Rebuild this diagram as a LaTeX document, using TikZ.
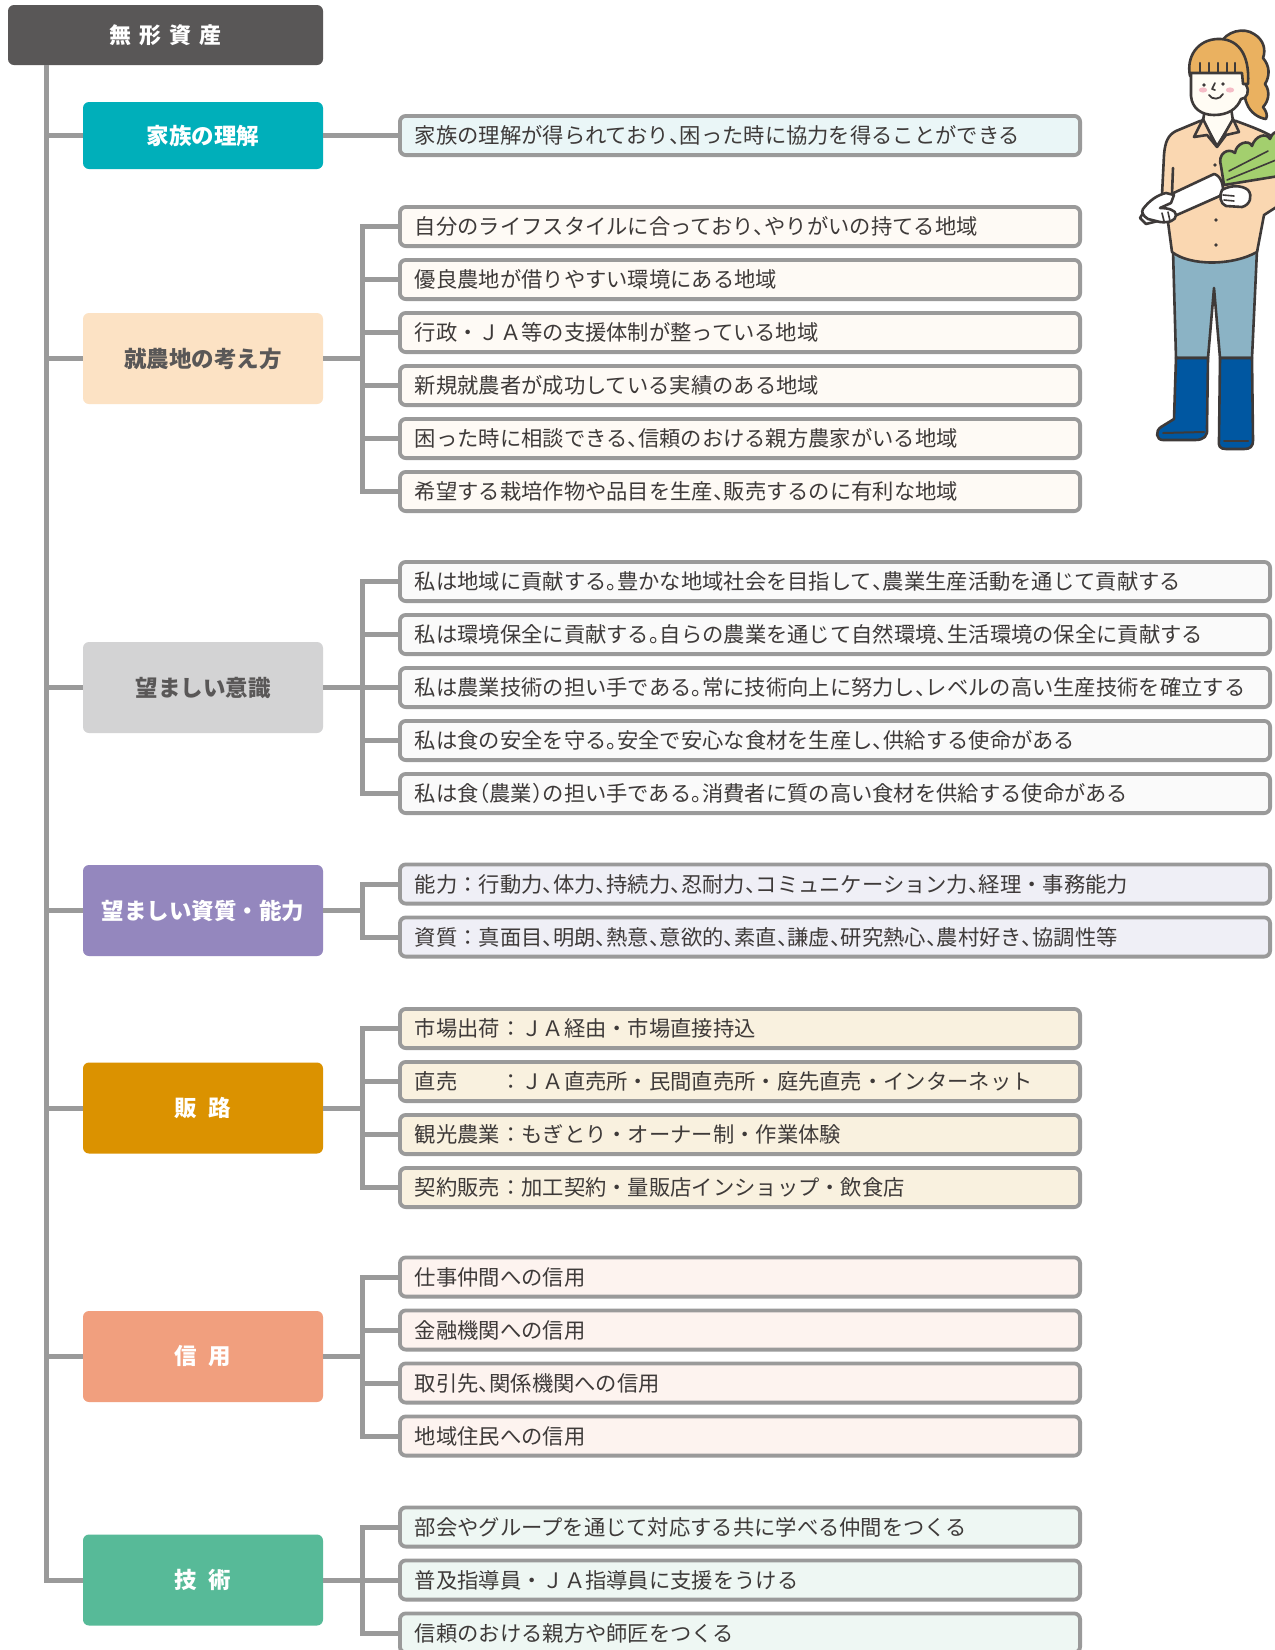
\documentclass[tikz,border=0pt]{standalone}
\usepackage{fontspec}
\setmainfont{Noto Sans CJK JP}
\definecolor{linegray}{HTML}{9A9A9A}
\definecolor{txt}{HTML}{3E3A39}
\definecolor{catgray}{HTML}{595757}
\definecolor{cRoot}{HTML}{595757}
\definecolor{cTeal}{HTML}{00AFBA}
\definecolor{cPeach}{HTML}{FCE2C4}
\definecolor{cGray}{HTML}{D3D3D4}
\definecolor{cPurple}{HTML}{9487BE}
\definecolor{cOrange}{HTML}{DB9200}
\definecolor{cSalmon}{HTML}{F19F7E}
\definecolor{cGreen}{HTML}{57BA98}
\definecolor{fTeal}{HTML}{EAF6F7}
\definecolor{fPeach}{HTML}{FEFAF5}
\definecolor{fGray}{HTML}{FAFAFA}
\definecolor{fPurple}{HTML}{EFEFF6}
\definecolor{fOrange}{HTML}{F9F1DF}
\definecolor{fSalmon}{HTML}{FDF3EF}
\definecolor{fGreen}{HTML}{EEF7F3}
% illustration colours
\definecolor{ink}{HTML}{3E3A39}
\definecolor{hair}{HTML}{EAB160}
\definecolor{skin}{HTML}{FFFCF4}
\definecolor{shirt}{HTML}{FAD7B1}
\definecolor{pants}{HTML}{8BB3C5}
\definecolor{boot}{HTML}{0057A1}
\definecolor{leaf}{HTML}{A3CF6E}
\definecolor{cheek}{HTML}{F5BCC6}
% half-width punctuation
\newcommand\hT{\makebox[.5em][l]{、}}
\newcommand\hM{\makebox[.5em][l]{。}}
\newcommand\hL{\makebox[.5em][r]{（}}
\newcommand\hR{\makebox[.5em][l]{）}}
\tikzset{
  conn/.style={draw=linegray, line width=5pt},
  rootbox/.style={fill=cRoot, rounded corners=6pt, minimum width=315pt, minimum height=60pt,
    inner sep=0pt, outer sep=0pt, text=white, font=\bfseries\fontsize{22}{25}\selectfont},
  cat/.style={rounded corners=6pt, minimum width=240pt, minimum height=91pt, inner sep=0pt,
    outer sep=0pt, font=\bfseries\fontsize{22.5}{26}\selectfont},
  det/.style={draw=linegray, line width=3.8pt, rounded corners=6pt, anchor=west,
    minimum height=39.2pt, text width=650.2pt, align=left, inner xsep=15pt, inner ysep=0pt,
    text=txt, font=\fontsize{21.3}{25}\selectfont},
  detw/.style={det, text width=840.2pt},
  fig/.style={draw=ink, line width=2.6pt, line join=round, line cap=round},
}
\begin{document}
\begin{tikzpicture}[x=1pt,y=-1pt]
\path[use as bounding box, fill=white] (0,0) rectangle (1275,1650);

% ---- root and categories ----
\node[rootbox] (root) at (165.5,35) {無\hspace{8pt}形\hspace{8pt}資\hspace{8pt}産};
\coordinate (trunk) at ([xshift=38pt]root.south west);
\coordinate (bx) at (362,0);

\node[cat, fill=cTeal, text=white, minimum height=67pt] (c1) at (203,135.5) {家族の理解};
\node[cat, fill=cPeach, text=catgray] (c2) at (203,358.5) {就農地の考え方};
\node[cat, fill=cGray, text=catgray] (c3) at (203,687.5) {望ましい意識};
\node[cat, fill=cPurple, text=white] (c4) at (203,910.5) {望ましい資質・能力};
\node[cat, fill=cOrange, text=white] (c5) at (203,1108) {販\hspace{.5em}路};
\node[cat, fill=cSalmon, text=white] (c6) at (203,1356.5) {信\hspace{.5em}用};
\node[cat, fill=cGreen, text=white] (c7) at (203,1580) {技\hspace{.5em}術};

% ---- detail boxes ----
\node[det, fill=fTeal] (d11) at (398,135.5) {家族の理解が得られており\hT 困った時に協力を得ることができる};

\node[det, fill=fPeach] (d21) at (398,226.5) {自分のライフスタイルに合っており\hT やりがいの持てる地域};
\node[det, fill=fPeach] (d22) at (398,279.5) {優良農地が借りやすい環境にある地域};
\node[det, fill=fPeach] (d23) at (398,332.5) {行政・ＪＡ等の支援体制が整っている地域};
\node[det, fill=fPeach] (d24) at (398,385.5) {新規就農者が成功している実績のある地域};
\node[det, fill=fPeach] (d25) at (398,438.5) {困った時に相談できる\hT 信頼のおける親方農家がいる地域};
\node[det, fill=fPeach] (d26) at (398,491.5) {希望する栽培作物や品目を生産\hT 販売するのに有利な地域};

\node[detw, fill=fGray] (d31) at (398,581.5) {私は地域に貢献する\hM 豊かな地域社会を目指して\hT 農業生産活動を通じて貢献する};
\node[detw, fill=fGray] (d32) at (398,634.5) {私は環境保全に貢献する\hM 自らの農業を通じて自然環境\hT 生活環境の保全に貢献する};
\node[detw, fill=fGray] (d33) at (398,687.5) {私は農業技術の担い手である\hM 常に技術向上に努力し\hT レベルの高い生産技術を確立する};
\node[detw, fill=fGray] (d34) at (398,740.5) {私は食の安全を守る\hM 安全で安心な食材を生産し\hT 供給する使命がある};
\node[detw, fill=fGray] (d35) at (398,793.5) {私は食\hL 農業\hR の担い手である\hM 消費者に質の高い食材を供給する使命がある};

\node[detw, fill=fPurple] (d41) at (398,884) {能力：行動力\hT 体力\hT 持続力\hT 忍耐力\hT コミュニケーション力\hT 経理・事務能力};
\node[detw, fill=fPurple] (d42) at (398,937) {資質：真面目\hT 明朗\hT 熱意\hT 意欲的\hT 素直\hT 謙虚\hT 研究熱心\hT 農村好き\hT 協調性等};

\node[det, fill=fOrange] (d51) at (398,1028.5) {市場出荷：ＪＡ経由・市場直接持込};
\node[det, fill=fOrange] (d52) at (398,1081.5) {直売　　：ＪＡ直売所・民間直売所・庭先直売・インターネット};
\node[det, fill=fOrange] (d53) at (398,1134.5) {観光農業：もぎとり・オーナー制・作業体験};
\node[det, fill=fOrange] (d54) at (398,1187.5) {契約販売：加工契約・量販店インショップ・飲食店};

\node[det, fill=fSalmon] (d61) at (398,1277) {仕事仲間への信用};
\node[det, fill=fSalmon] (d62) at (398,1330) {金融機関への信用};
\node[det, fill=fSalmon] (d63) at (398,1383) {取引先\hT 関係機関への信用};
\node[det, fill=fSalmon] (d64) at (398,1436) {地域住民への信用};

\node[det, fill=fGreen] (d71) at (398,1527) {部会やグループを通じて対応する共に学べる仲間をつくる};
\node[det, fill=fGreen] (d72) at (398,1580) {普及指導員・ＪＡ指導員に支援をうける};
\node[det, fill=fGreen] (d73) at (398,1633) {信頼のおける親方や師匠をつくる};

% ---- trunk ----
\draw[conn] (trunk) |- (c7.west);
\foreach \c in {c1,c2,c3,c4,c5,c6} \draw[conn] (trunk |- \c.west) -- (\c.west);

% ---- branches ----
\draw[conn] (c1.east) -- (d11.west);

\draw[conn] (c2.east) -- (c2.east -| bx);
\draw[conn] (d21.west) -| (bx |- d26.west) -- (d26.west);
\foreach \d in {d22,d23,d24,d25} \draw[conn] (\d.west) -- (bx |- \d.west);

\draw[conn] (c3.east) -- (c3.east -| bx);
\draw[conn] (d31.west) -| (bx |- d35.west) -- (d35.west);
\foreach \d in {d32,d33,d34} \draw[conn] (\d.west) -- (bx |- \d.west);

\draw[conn] (c4.east) -- (c4.east -| bx);
\draw[conn] (d41.west) -| (bx |- d42.west) -- (d42.west);

\draw[conn] (c5.east) -- (c5.east -| bx);
\draw[conn] (d51.west) -| (bx |- d54.west) -- (d54.west);
\foreach \d in {d52,d53} \draw[conn] (\d.west) -- (bx |- \d.west);

\draw[conn] (c6.east) -- (c6.east -| bx);
\draw[conn] (d61.west) -| (bx |- d64.west) -- (d64.west);
\foreach \d in {d62,d63} \draw[conn] (\d.west) -- (bx |- \d.west);

\draw[conn] (c7.east) -- (c7.east -| bx);
\draw[conn] (d71.west) -| (bx |- d73.west) -- (d73.west);
\draw[conn] (d72.west) -- (bx |- d72.west);

% ---- farmer with a daikon ----
% ponytail
\path[fig, fill=hair] (1220,44) .. controls (1226,31) and (1244,27) .. (1254,34)
  .. controls (1264,40) and (1266,50) .. (1263,58) .. controls (1270,66) and (1270,76) .. (1265,84)
  .. controls (1271,92) and (1268,102) .. (1263,107) .. controls (1266,111) and (1268,115) .. (1266,119)
  .. controls (1258,118) and (1250,112) .. (1247,104) .. controls (1243,96) and (1246,88) .. (1244,80) -- cycle;
% pants
\path[fig, fill=pants] (1173,250) -- (1176,358) -- (1208,358) -- (1214,288) -- (1220,358) -- (1252,358) -- (1257,250) -- cycle;
% boots
\path[fig, fill=boot] (1176,358) -- (1208,358) -- (1207,428) .. controls (1208,436) and (1204,440) .. (1195,440)
  -- (1163,440) .. controls (1156,440) and (1155,431) .. (1161,427) -- (1174,419) -- cycle;
\draw[fig, line width=2pt] (1163,433) -- (1204,432);
\path[fig, fill=boot] (1220,358) -- (1252,358) -- (1253,440) .. controls (1253,447) and (1250,449) .. (1244,449)
  -- (1226,449) .. controls (1220,449) and (1218,446) .. (1219,440) -- cycle;
\draw[fig, line width=2pt] (1224,441) -- (1248,441);
% shirt
\path[fig, fill=shirt] (1200,121) -- (1176,131) .. controls (1168,135) and (1165,142) .. (1164,155)
  -- (1162,195) -- (1168,222) -- (1172,252) .. controls (1190,266) and (1232,266) .. (1257,252)
  -- (1264,215) -- (1278,206) -- (1278,140) .. controls (1268,133) and (1255,128) .. (1236,121) -- cycle;
\draw[fig] (1173,168) -- (1172,194);
% neck and collar
\path[fig, fill=skin] (1205,108) -- (1203,121) -- (1217,146) -- (1233,121) -- (1231,108) -- cycle;
\path[fig, fill=shirt] (1203,119) -- (1194,137) -- (1207,135) -- (1217,147) -- cycle;
\path[fig, fill=shirt] (1233,119) -- (1239,132) -- (1226,135) -- (1217,147) -- cycle;
% buttons
\foreach \p in {(1215,165),(1216,220),(1216,245)} \fill[ink] \p circle (1.9);
% face
\path[fig, fill=skin] (1191,72) -- (1191,96) .. controls (1192,108) and (1201,115) .. (1214,115)
  .. controls (1228,115) and (1237,109) .. (1241,99) .. controls (1247,99) and (1250,91) .. (1246,85) -- (1246,72) -- cycle;
% bangs
\path[fig, fill=hair] (1190,76) .. controls (1186,56) and (1198,40) .. (1217,39)
  .. controls (1237,38) and (1250,53) .. (1248,84) -- (1243,84) -- (1242,73) -- (1191,73) -- cycle;
\foreach \x in {1200,1209,1218,1227,1235} \draw[fig, line width=2.2pt] (\x,63) -- (\x,72);
% eyes, nose, smile, cheeks
\fill[cheek] (1203,90) ellipse (4.2 and 2.6);
\fill[cheek] (1230,90) ellipse (4.2 and 2.6);
\fill[ink] (1204,85) circle (1.9);
\fill[ink] (1223,84) circle (1.9);
\draw[fig, line width=1.6pt] (1215,83) -- (1212,89) -- (1215,90);
\draw[fig, line width=1.8pt] (1209,95) .. controls (1212,100) and (1220,100) .. (1223,94);
% daikon
\path[fig, fill=white] (1140,218) -- (1148,205) -- (1214,174) .. controls (1220,175) and (1225,185) .. (1222,195)
  -- (1170,218) -- (1146,224) -- cycle;
% leaves
\path[fig, fill=leaf] (1224,185) -- (1221,166) .. controls (1217,154) and (1228,147) .. (1235,153)
  .. controls (1236,143) and (1249,139) .. (1252,146) .. controls (1255,136) and (1266,132) .. (1270,139)
  .. controls (1272,133) and (1276,131) .. (1279,132) -- (1279,176) -- cycle;
\draw[fig, line width=1.6pt] (1227,180) -- (1276,160);
\draw[fig, line width=1.6pt] (1229,171) -- (1268,151);
% hands
\path[fig, fill=white] (1222,190) .. controls (1230,185) and (1242,185) .. (1248,190)
  .. controls (1253,196) and (1250,205) .. (1242,207) -- (1226,206) .. controls (1220,204) and (1219,195) .. (1222,190) -- cycle;
\draw[fig, line width=1.6pt] (1223,195) -- (1234,196);
\draw[fig, line width=1.6pt] (1224,200) -- (1234,201);
\path[fig, fill=white] (1143,209) .. controls (1149,201) and (1157,195) .. (1166,193)
  -- (1174,195) -- (1171,203) -- (1160,208) .. controls (1168,208) and (1176,210) .. (1176,215)
  .. controls (1176,221) and (1168,223) .. (1160,222) -- (1148,219) .. controls (1143,216) and (1141,212) .. (1143,209) -- cycle;
\draw[fig, line width=1.6pt] (1162,213) -- (1164,221);
\draw[fig, line width=1.6pt] (1168,212) -- (1170,221);
\end{tikzpicture}
\end{document}
